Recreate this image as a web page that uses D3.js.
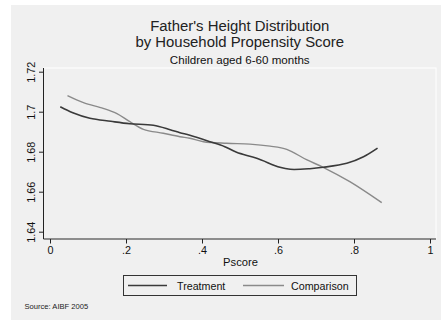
<!DOCTYPE html>
<meta charset="utf-8">
<style>
body { margin: 0; background: #fff; font-family: Arial, "Liberation Sans", sans-serif; }
.axis text { font: 10.8px Arial, "Liberation Sans", sans-serif; fill: #111; }
.axis path, .axis line { stroke: #222; }
</style>
<body>
<script src="https://d3js.org/d3.v7.min.js"></script>
<script>

// pscore values and smoothed father's height
var treatPscore = [0.027, 0.06, 0.105, 0.16, 0.21, 0.272, 0.316, 0.342, 0.368, 0.421, 0.46, 0.491, 0.544, 0.605, 0.632, 0.684, 0.719, 0.781, 0.825, 0.862];
var treatHeight = [1.7025, 1.6995, 1.6967, 1.6952, 1.6940, 1.6932, 1.6910, 1.6895, 1.6882, 1.6850, 1.6825, 1.6797, 1.6767, 1.6722, 1.6712, 1.6715, 1.6722, 1.6742, 1.6775, 1.6818];

var compPscore = [0.046, 0.088, 0.14, 0.175, 0.21, 0.246, 0.298, 0.342, 0.368, 0.404, 0.465, 0.526, 0.579, 0.623, 0.675, 0.719, 0.789, 0.873];
var compHeight = [1.7080, 1.7045, 1.7017, 1.6992, 1.6950, 1.6912, 1.6892, 1.6875, 1.6867, 1.6850, 1.6842, 1.6838, 1.6828, 1.6812, 1.6760, 1.6722, 1.6650, 1.6545];

var xTicks = [0, 0.2, 0.4, 0.6, 0.8, 1];
var yTicks = [1.64, 1.66, 1.68, 1.70, 1.72];
var seriesNames = ["Treatment", "Comparison"];

var W = 441, H = 320;
var plot = {left: 43.5, right: 436, top: 68, bottom: 239};

var svg = d3.select("body").append("svg")
  .attr("width", W)
  .attr("height", H);

// graph region
svg.append("rect")
  .attr("x", 11).attr("y", 5)
  .attr("width", W - 11).attr("height", H - 5)
  .attr("fill", "#f0f0f0");

// plot region with white outline
svg.append("rect")
  .attr("x", plot.left).attr("y", plot.top)
  .attr("width", plot.right - plot.left).attr("height", plot.bottom - plot.top)
  .attr("fill", "#f0f0f0")
  .attr("stroke", "#fff")
  .attr("stroke-width", 1);

var x = d3.scaleLinear().domain([0, 1]).range([50, 430]);
var y = d3.scaleLinear().domain([1.64, 1.72]).range([231.7, 71.7]);

// titles
var cx = (plot.left + plot.right) / 2;
svg.append("text").attr("x", cx).attr("y", 30.6)
  .attr("text-anchor", "middle").style("font-size", "14.9px").attr("fill", "#222")
  .text("Father's Height Distribution");
svg.append("text").attr("x", cx).attr("y", 46.8)
  .attr("text-anchor", "middle").style("font-size", "14.9px").attr("fill", "#222")
  .text("by Household Propensity Score");
svg.append("text").attr("x", cx).attr("y", 63.5)
  .attr("text-anchor", "middle").style("font-size", "11.6px").attr("fill", "#111")
  .text("Children aged 6-60 months");

// axes
var xAxis = d3.axisBottom(x).tickValues(xTicks).tickSize(4.5).tickPadding(3)
  .tickFormat(function(d) { return d === 0 || d === 1 ? d3.format("d")(d) : d3.format(".1f")(d).replace(/^0/, ""); });
var gx = svg.append("g").attr("class", "axis")
  .attr("transform", "translate(0," + plot.bottom + ")")
  .call(xAxis);
gx.select(".domain").attr("d", "M" + plot.left + ",0H" + plot.right);

var yAxis = d3.axisLeft(y).tickValues(yTicks).tickSize(4.5)
  .tickFormat(function(d) { return d3.format(".2f")(d).replace(/0$/, ""); });
var gy = svg.append("g").attr("class", "axis")
  .attr("transform", "translate(" + plot.left + ",0)")
  .call(yAxis);
gy.select(".domain").attr("d", "M0," + plot.top + "V" + plot.bottom);
gy.selectAll(".tick text")
  .attr("x", 0).attr("dy", 0)
  .attr("text-anchor", "middle")
  .attr("transform", "translate(-8.5,0) rotate(-90)");

svg.append("text").attr("x", 240.5).attr("y", 266)
  .attr("text-anchor", "middle").style("font-size", "11.2px").attr("fill", "#111")
  .text("Pscore");

// lines
var line = d3.line()
  .x(function(d) { return x(d[0]); })
  .y(function(d) { return y(d[1]); })
  .curve(d3.curveCatmullRom);

var treat = d3.zip(treatPscore, treatHeight);
var comp = d3.zip(compPscore, compHeight);

svg.append("path").datum(comp)
  .attr("d", line).attr("fill", "none")
  .attr("stroke", "#8a8a8a").attr("stroke-width", 1.4);
svg.append("path").datum(treat)
  .attr("d", line).attr("fill", "none")
  .attr("stroke", "#3a3a3a").attr("stroke-width", 1.6);

// legend
var leg = svg.append("g");
leg.append("rect")
  .attr("x", 123.5).attr("y", 275.5).attr("width", 233).attr("height", 20)
  .attr("fill", "#f0f0f0").attr("stroke", "#333").attr("stroke-width", 1);
var legItems = [
  {x1: 128, x2: 167, tx: 177, color: "#3a3a3a", w: 1.6},
  {x1: 243, x2: 284, tx: 291, color: "#8a8a8a", w: 1.4}
];
legItems.forEach(function(d, i) {
  leg.append("line").attr("x1", d.x1).attr("x2", d.x2).attr("y1", 285.5).attr("y2", 285.5)
    .attr("stroke", d.color).attr("stroke-width", d.w);
  leg.append("text").attr("x", d.tx).attr("y", 289.5)
    .style("font-size", "10.7px").attr("fill", "#111")
    .text(seriesNames[i]);
});

svg.append("text").attr("x", 24.5).attr("y", 308.5)
  .style("font-size", "7.6px").attr("fill", "#222")
  .text("Source: AIBF 2005");

</script>
</body>
